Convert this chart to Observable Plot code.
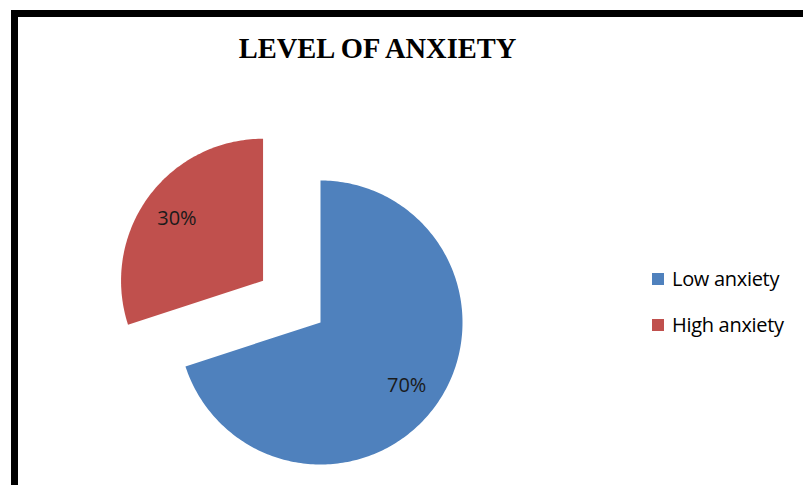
<!DOCTYPE html>
<html>
<head>
<meta charset="utf-8">
<script src="https://cdn.jsdelivr.net/npm/d3@7"></script>
<script src="https://cdn.jsdelivr.net/npm/@observablehq/plot@0.6"></script>
<style>
  html, body { margin: 0; padding: 0; background: #fff; }
  #wrap { position: relative; width: 803px; height: 485px; overflow: hidden; background: #fff; }
  #frame { position: absolute; left: 11px; top: 10px; width: 900px; height: 600px; border: 7px solid #000; box-sizing: border-box; }
  #title { position: absolute; left: 0; width: 755px; top: 33px; text-align: center; font-family: "Liberation Serif", serif; font-weight: bold; font-size: 28.5px; color: #000; line-height: 32px; }
  #chart { position: absolute; left: 0; top: 0; }
  .leg { position: absolute; left: 652px; font-family: "Open Sans", sans-serif; font-size: 20px; letter-spacing: -0.3px; color: #000; display: flex; align-items: center; line-height: 22px; }
  .sw { width: 12px; height: 12px; margin-right: 8px; }
</style>
</head>
<body>
<div id="wrap">
  <div id="frame"></div>
  <div id="title"></div>
  <div id="chart"></div>
  <div id="legend"></div>
</div>
<script>
const title = "LEVEL OF ANXIETY";
const categories = ["Low anxiety", "High anxiety"];
const values = [70, 30];
const labels = ["70%", "30%"];
const colors = ["#4F81BD", "#C0504D"];
const explode = [0, 0.5];

document.getElementById("title").textContent = title;

// pie angles, clockwise from 12 o'clock
const total = d3.sum(values);
let acc = 0;
const slices = categories.map((c, i) => {
  const a0 = acc / total * 2 * Math.PI;
  acc += values[i];
  const a1 = acc / total * 2 * Math.PI;
  const mid = (a0 + a1) / 2;
  const ox = explode[i] * Math.sin(mid), oy = -explode[i] * Math.cos(mid);
  return {cat: c, a0, a1, mid, ox, oy, label: labels[i]};
});

const outline = [];
for (const s of slices) {
  outline.push({cat: s.cat, x: s.ox, y: s.oy});
  const n = Math.max(2, Math.ceil((s.a1 - s.a0) / (Math.PI / 180)));
  for (let k = 0; k <= n; k++) {
    const a = s.a0 + (s.a1 - s.a0) * k / n;
    outline.push({cat: s.cat, x: s.ox + Math.sin(a), y: s.oy - Math.cos(a)});
  }
  outline.push({cat: s.cat, x: s.ox, y: s.oy});
}
const labelPts = slices.map(s => ({
  cat: s.cat, label: s.label,
  x: s.ox + 0.75 * Math.sin(s.mid), y: s.oy - 0.75 * Math.cos(s.mid)
}));

const plot = Plot.plot({
  width: 803,
  height: 485,
  margin: 0,
  x: {domain: [-1, 1], range: [178, 462], axis: null},
  y: {domain: [-1, 1], range: [180, 464], axis: null},
  color: {domain: categories, range: colors},
  style: {background: "transparent", overflow: "visible"},
  marks: [
    Plot.line(outline, {x: "x", y: "y", z: "cat", fill: "cat", stroke: "none", curve: "linear-closed"}),
    Plot.text(labelPts, {x: "x", y: "y", text: "label", fill: "#1a1a1a", fontSize: 20, fontFamily: "Open Sans, sans-serif"})
  ]
});
document.getElementById("chart").appendChild(plot);

const legend = document.getElementById("legend");
const legTops = [268, 314];
categories.forEach((c, i) => {
  const row = document.createElement("div");
  row.className = "leg";
  row.style.top = legTops[i] + "px";
  const sw = document.createElement("div");
  sw.className = "sw";
  sw.style.background = colors[i];
  const t = document.createElement("span");
  t.textContent = c;
  row.appendChild(sw); row.appendChild(t);
  legend.appendChild(row);
});
</script>
</body>
</html>
